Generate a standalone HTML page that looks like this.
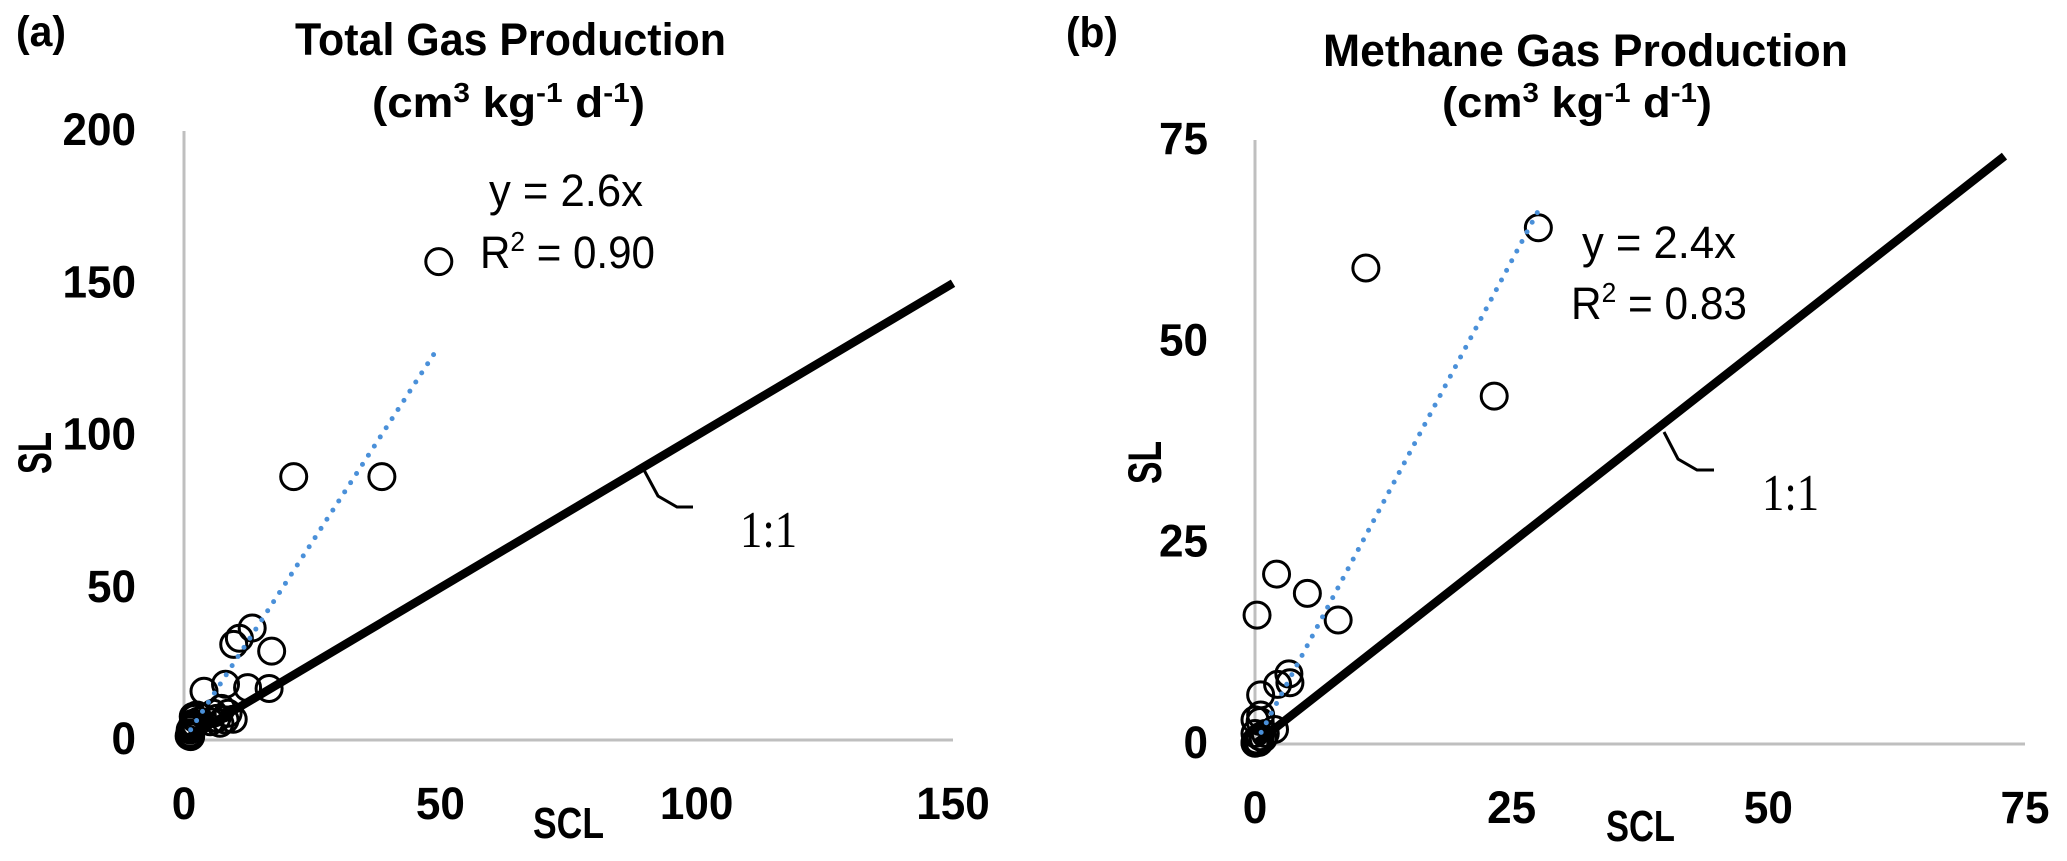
<!DOCTYPE html>
<html lang="en">
<head>
<meta charset="utf-8">
<title>SL vs SCL gas production</title>
<style>
html,body{margin:0;padding:0;background:#fff;width:2067px;height:861px;overflow:hidden}
svg{display:block}
text{font-family:"Liberation Sans",sans-serif;fill:#000}
.b{font-weight:700}
.tick{font-weight:700;font-size:45px}
.title{font-weight:700;font-size:45px}
.units{font-weight:700;font-size:43px}
.axt{font-weight:700;font-size:44px}
.axy{font-weight:700;font-size:47px}
.eq{font-size:45px}
.ratio{font-family:"Liberation Serif",serif;font-size:52px}
</style>
</head>
<body>
<svg id="figure" xmlns="http://www.w3.org/2000/svg" width="2067" height="861" viewBox="0 0 2067 861">
  <rect width="2067" height="861" fill="#fff"/>

  <text class="b" x="16" y="46" font-size="43" textLength="50" lengthAdjust="spacingAndGlyphs">(a)</text>
  <text class="title" x="295" y="55" textLength="431" lengthAdjust="spacingAndGlyphs">Total Gas Production</text>
  <text class="units" x="372" y="117" textLength="273" lengthAdjust="spacingAndGlyphs">(cm<tspan font-size="28" dy="-15">3</tspan><tspan dy="15"> kg</tspan><tspan font-size="28" dy="-15">-1</tspan><tspan dy="15"> d</tspan><tspan font-size="28" dy="-15">-1</tspan><tspan dy="15">)</tspan></text>
  <text class="axt" x="533" y="838" textLength="71" lengthAdjust="spacingAndGlyphs">SCL</text>
  <text class="axy" transform="translate(51,474) rotate(-90)" textLength="42" lengthAdjust="spacingAndGlyphs">SL</text>
  <text class="eq" x="489" y="206" textLength="154" lengthAdjust="spacingAndGlyphs">y = 2.6x</text>
  <text class="eq" x="480" y="268" textLength="175" lengthAdjust="spacingAndGlyphs">R<tspan font-size="28" dy="-17">2</tspan><tspan dy="17"> = 0.90</tspan></text>
  <polyline points="644,470 658,496 677,507 693,507" fill="none" stroke="#000" stroke-width="3"/>
  <text class="ratio" transform="translate(740,547) scale(0.86,1)">1:1</text>

  <text class="b" x="1066" y="47" font-size="43" textLength="52" lengthAdjust="spacingAndGlyphs">(b)</text>
  <text class="title" x="1323" y="66" textLength="525" lengthAdjust="spacingAndGlyphs">Methane Gas Production</text>
  <text class="units" x="1442" y="117" textLength="270" lengthAdjust="spacingAndGlyphs">(cm<tspan font-size="28" dy="-15">3</tspan><tspan dy="15"> kg</tspan><tspan font-size="28" dy="-15">-1</tspan><tspan dy="15"> d</tspan><tspan font-size="28" dy="-15">-1</tspan><tspan dy="15">)</tspan></text>
  <text class="axt" x="1606" y="841" textLength="69" lengthAdjust="spacingAndGlyphs">SCL</text>
  <text class="axy" transform="translate(1161,484) rotate(-90)" textLength="43" lengthAdjust="spacingAndGlyphs">SL</text>
  <text class="eq" x="1582" y="258" textLength="154" lengthAdjust="spacingAndGlyphs">y = 2.4x</text>
  <text class="eq" x="1571" y="319" textLength="176" lengthAdjust="spacingAndGlyphs">R<tspan font-size="28" dy="-17">2</tspan><tspan dy="17"> = 0.83</tspan></text>
  <polyline points="1664,432 1678,459 1697,470 1714,470" fill="none" stroke="#000" stroke-width="3"/>
  <text class="ratio" transform="translate(1762,510) scale(0.86,1)">1:1</text>
</svg>
<script>
// Panel (a): Total gas production
const aSCL = [49.7,21.4,38.6,13.3,10.8,9.7,17.1,16.6,12.4,8.1,3.9,9.6,8.6,7.3,7,8,6.4,5.7,5.1,2.5,2.1,1.8,1.5,1.2,1.3,1.2,1.8,1,1.6,2.2,1.1,2.8];
const aSL = [157.1,86.5,86.5,36.8,33.4,31.4,29.2,16.9,17.2,18.3,16,6.8,8.8,10.4,5.5,6.6,7.1,8.8,6,8.2,7.1,5.5,3.8,2.2,1.1,3.3,7.7,1.3,4.6,5.1,1.8,6.2];
const aTicksX = [0,50,100,150];
const aTicksY = [0,50,100,150,200];
const aIdentity = [0,150];
const aTrendX = [1.3,49.6];
const aTrendSlope = 2.6;

// Panel (b): Methane gas production
const bSCL = [27.6,10.8,23.3,2.1,5.1,0.2,8.1,3.3,3.4,2.2,0.55,1.9,0.55,0,0.5,0,0.5,0.8,0,0.16,0,1,0.2,0.4];
const bSL = [64.1,59.1,43.2,21.1,18.7,16,15.4,8.7,7.6,7.4,6.1,1.8,3.6,3,2.8,1.3,0.9,0.7,0.1,0.5,0.2,1.3,0.3,0.2];
const bTicksX = [0,25,50,75];
const bTicksY = [0,25,50,75];
const bIdentity = [0,73];
const bTrendX = [0.6,27.6];
const bTrendSlope = 2.4;

const NS = 'http://www.w3.org/2000/svg';
const svg = document.getElementById('figure');

function scale(d0, d1, p0, p1) {
  return function (v) { return p0 + (v - d0) * (p1 - p0) / (d1 - d0); };
}

function drawPanel(prefix, cfg) {
  const x = cfg.x, y = cfg.y;

  const yAxis = document.createElementNS(NS, 'line');
  
  
  yAxis.setAttribute('x1', x(0));
  yAxis.setAttribute('x2', x(0));
  yAxis.setAttribute('y1', y(cfg.ticksY[cfg.ticksY.length - 1]));
  yAxis.setAttribute('y2', y(0));
  yAxis.setAttribute('stroke', '#bfbfbf');
  yAxis.setAttribute('stroke-width', '3');
  svg.appendChild(yAxis);

  const xAxis = document.createElementNS(NS, 'line');
  
  
  xAxis.setAttribute('x1', x(0));
  xAxis.setAttribute('x2', x(cfg.ticksX[cfg.ticksX.length - 1]));
  xAxis.setAttribute('y1', y(0));
  xAxis.setAttribute('y2', y(0));
  xAxis.setAttribute('stroke', '#bfbfbf');
  xAxis.setAttribute('stroke-width', '3');
  svg.appendChild(xAxis);

  cfg.ticksX.forEach(function (t) {
    const el = document.createElementNS(NS, 'text');
    
    
    el.setAttribute('class', 'tick');
    el.setAttribute('text-anchor', 'middle');
    el.setAttribute('x', x(t));
    el.setAttribute('y', cfg.xTickBaseline);
    el.setAttribute('textLength', String(t).length * 24.5);
    el.setAttribute('lengthAdjust', 'spacingAndGlyphs');
    el.textContent = t;
    svg.appendChild(el);
  });

  cfg.ticksY.forEach(function (t) {
    const el = document.createElementNS(NS, 'text');
    
    
    el.setAttribute('class', 'tick');
    el.setAttribute('text-anchor', 'end');
    el.setAttribute('x', cfg.yTickRight);
    el.setAttribute('y', y(t) + cfg.yTickShift);
    el.setAttribute('textLength', String(t).length * 24.5);
    el.setAttribute('lengthAdjust', 'spacingAndGlyphs');
    el.textContent = t;
    svg.appendChild(el);
  });

  cfg.scl.forEach(function (v, i) {
    const c = document.createElementNS(NS, 'circle');
    
    
    c.setAttribute('cx', x(v));
    c.setAttribute('cy', y(cfg.sl[i]));
    c.setAttribute('r', '13');
    c.setAttribute('fill', 'none');
    c.setAttribute('stroke', '#000');
    c.setAttribute('stroke-width', '3');
    svg.appendChild(c);
  });

  const identity = document.createElementNS(NS, 'line');
  
  
  identity.setAttribute('x1', x(cfg.identity[0]));
  identity.setAttribute('y1', y(cfg.identity[0]));
  identity.setAttribute('x2', x(cfg.identity[1]));
  identity.setAttribute('y2', y(cfg.identity[1]));
  identity.setAttribute('stroke', '#000');
  identity.setAttribute('stroke-width', '8.5');
  svg.appendChild(identity);

  const trend = document.createElementNS(NS, 'line');
  
  
  trend.setAttribute('x1', x(cfg.trendX[0]));
  trend.setAttribute('y1', y(cfg.trendX[0] * cfg.slope));
  trend.setAttribute('x2', x(cfg.trendX[1]));
  trend.setAttribute('y2', y(cfg.trendX[1] * cfg.slope));
  trend.setAttribute('stroke', '#4a90d9');
  trend.setAttribute('stroke-width', '5');
  trend.setAttribute('stroke-linecap', 'round');
  trend.setAttribute('stroke-dasharray', '0 10.9');
  svg.appendChild(trend);
}

drawPanel('panel-a', {
  x: scale(0, 150, 184, 953),
  y: scale(0, 200, 740, 131),
  scl: aSCL, sl: aSL, ticksX: aTicksX, ticksY: aTicksY,
  identity: aIdentity, trendX: aTrendX, slope: aTrendSlope,
  xTickBaseline: 819, yTickRight: 136, yTickShift: 14
});

drawPanel('panel-b', {
  x: scale(0, 75, 1255, 2025),
  y: scale(0, 75, 744, 140),
  scl: bSCL, sl: bSL, ticksX: bTicksX, ticksY: bTicksY,
  identity: bIdentity, trendX: bTrendX, slope: bTrendSlope,
  xTickBaseline: 823, yTickRight: 1208, yTickShift: 14
});
</script>
</body>
</html>
